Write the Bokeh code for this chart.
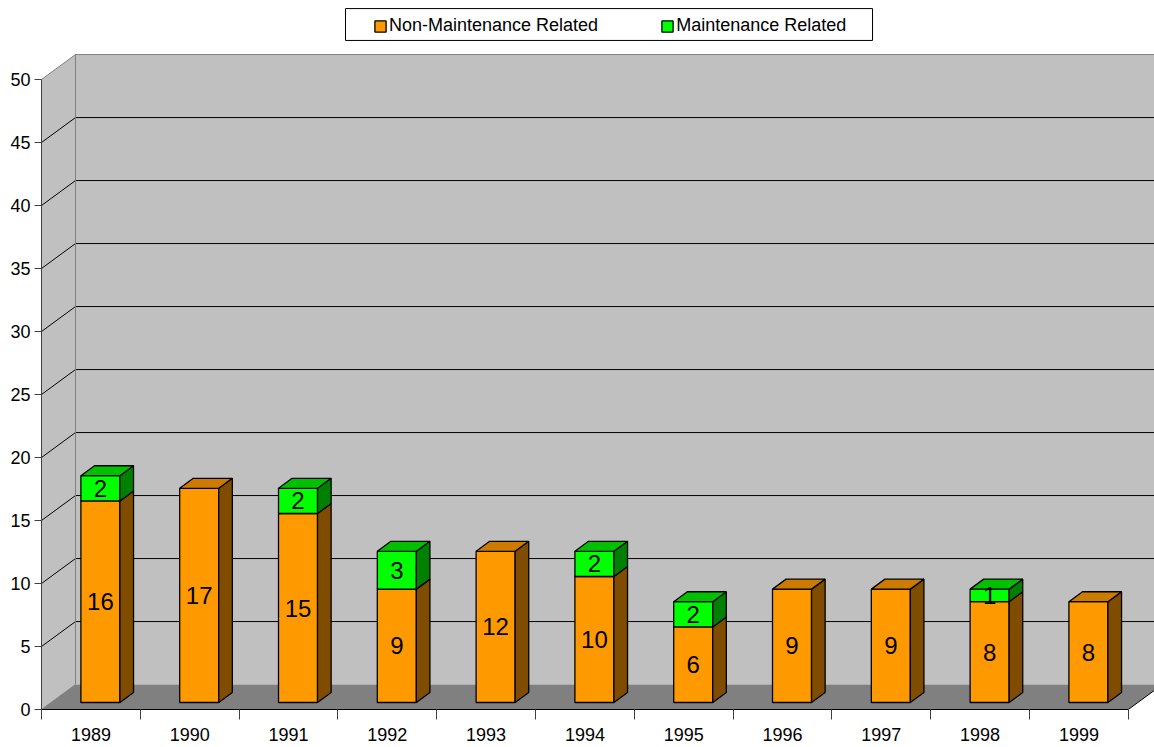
from bokeh.plotting import figure
from bokeh.models import Range1d, FixedTicker, ColumnDataSource, Legend, LegendItem, BoxAnnotation
from bokeh.core.properties import value
from bokeh.embed import file_html
from bokeh.resources import INLINE

# ---------------- data ----------------
years = ["1989", "1990", "1991", "1992", "1993", "1994", "1995", "1996", "1997", "1998", "1999"]
non_maint = [16, 17, 15, 9, 12, 10, 6, 9, 9, 8, 8]
maint = [2, 0, 2, 3, 0, 2, 2, 0, 0, 1, 0]
y_ticks = [0, 5, 10, 15, 20, 25, 30, 35, 40, 45, 50]
series_names = ["Non-Maintenance Related", "Maintenance Related"]

# ---------------- style ----------------
FONT = "Liberation Sans"
N = len(years)
YMAX = y_ticks[-1]
DX, DY = 0.344, 1.98      # depth of the 3-D box (category units, value units)
F1, F2 = 0.28, 0.68       # front / back depth of the bars
BW = 0.395                # bar width
ORANGE = ("#FF9900", "#7F4C00", "#CC7A00")   # front, side, top
GREEN = ("#00FF00", "#008000", "#00C000")
WALL, FLOOR = "#C0C0C0", "#808080"

p = figure(width=1154, height=747, output_backend="svg", toolbar_location=None,
           x_range=Range1d(0, 11.265), y_range=Range1d(0, 56.27),
           min_border_left=41, min_border_right=0, min_border_top=0, min_border_bottom=38)
p.outline_line_color = None
p.grid.visible = False
p.background_fill_color = "white"
p.border_fill_color = "white"

# walls and floor
p.patch([0, DX, DX, 0], [0, DY, YMAX + DY, YMAX], fill_color=WALL, line_color=None)
p.patch([DX, N + DX, N + DX, DX], [DY, DY, YMAX + DY, YMAX + DY], fill_color=WALL, line_color=None)
p.patch([0, N, N + DX, DX], [0, 0, DY, DY], fill_color=FLOOR, line_color=None)

# gridlines
gv = [v for v in y_ticks if 0 < v < YMAX]
p.segment(x0=[0] * len(gv), y0=gv, x1=[DX] * len(gv), y1=[v + DY for v in gv], line_color="black", line_width=1)
p.segment(x0=[DX] * len(gv), y0=[v + DY for v in gv], x1=[N + DX] * len(gv), y1=[v + DY for v in gv],
          line_color="black", line_width=1)
# wall edges
p.segment(x0=[0, DX, DX, 0], y0=[YMAX, YMAX + DY, DY, 0], x1=[DX, N + DX, DX, DX], y1=[YMAX + DY, YMAX + DY, YMAX + DY, DY],
          line_color="#808080", line_width=1)
p.segment(x0=[N], y0=[0], x1=[N + DX], y1=[DY], line_color="black", line_width=1)


def bar_faces(idx, bases, tops):
    left = [i + 0.5 - BW / 2 + F1 * DX for i in idx]
    right = [l + BW for l in left]
    ddx, ddy = (F2 - F1) * DX, (F2 - F1) * DY
    bot = [b + F1 * DY for b in bases]
    top = [t + F1 * DY for t in tops]
    front = ColumnDataSource(dict(left=left, right=right, bottom=bot, top=top))
    side = dict(xs=[[r, r + ddx, r + ddx, r] for r in right],
                ys=[[b, b + ddy, t + ddy, t] for b, t in zip(bot, top)])
    topf = dict(xs=[[l, r, r + ddx, l + ddx] for l, r in zip(left, right)],
                ys=[[t, t, t + ddy, t + ddy] for t in top])
    return front, side, topf


idx_all = list(range(N))
o_front, o_side, o_top = bar_faces(idx_all, [0] * N, non_maint)
g_idx = [i for i in idx_all if maint[i] > 0]
g_front, g_side, g_top = bar_faces(g_idx, [non_maint[i] for i in g_idx], [non_maint[i] + maint[i] for i in g_idx])

r_orange = p.quad(left="left", right="right", bottom="bottom", top="top", source=o_front,
                  fill_color=ORANGE[0], line_color="black", line_width=1.3)
p.patches(xs="xs", ys="ys", source=ColumnDataSource(o_side), fill_color=ORANGE[1], line_color="black", line_width=1.3)
o_top_idx = [k for k, i in enumerate(idx_all) if maint[i] == 0]
p.patches(xs=[o_top["xs"][k] for k in o_top_idx], ys=[o_top["ys"][k] for k in o_top_idx],
          fill_color=ORANGE[2], line_color="black", line_width=1.3)

r_green = p.quad(left="left", right="right", bottom="bottom", top="top", source=g_front,
                 fill_color=GREEN[0], line_color="black", line_width=1.3)
p.patches(xs="xs", ys="ys", source=ColumnDataSource(g_side), fill_color=GREEN[1], line_color="black", line_width=1.3)
p.patches(xs="xs", ys="ys", source=ColumnDataSource(g_top), fill_color=GREEN[2], line_color="black", line_width=1.3)

# value labels
lx = [i + 0.5 + F1 * DX for i in idx_all]
p.text(x=lx, y=[v / 2 + F1 * DY for v in non_maint], text=[str(v) for v in non_maint],
       text_align="center", text_baseline="middle", text_font=value(FONT), text_font_size="24px", text_color="black")
p.text(x=[lx[i] for i in g_idx], y=[non_maint[i] + maint[i] / 2 + F1 * DY for i in g_idx],
       text=[str(maint[i]) for i in g_idx],
       text_align="center", text_baseline="middle", text_font=value(FONT), text_font_size="24px", text_color="black")

# axes
xa = p.xaxis[0]
xa.ticker = FixedTicker(ticks=[i + 0.5 for i in idx_all], minor_ticks=list(range(N + 1)))
xa.major_label_overrides = {i + 0.5: years[i] for i in idx_all}
xa.bounds = (0, N)
xa.major_tick_line_color = None
xa.major_tick_out = 0
xa.major_tick_in = 0
xa.minor_tick_out = 10
xa.minor_tick_in = 0
xa.minor_tick_line_color = "#404040"
xa.axis_line_color = "black"
xa.major_label_standoff = 8
xa.major_label_text_font = FONT
xa.major_label_text_font_size = "18px"
xa.major_label_text_color = "black"

ya = p.yaxis[0]
ya.ticker = FixedTicker(ticks=y_ticks, minor_ticks=[])
ya.bounds = (0, YMAX)
ya.major_tick_out = 7
ya.major_tick_in = 0
ya.major_tick_line_color = "#404040"
ya.axis_line_color = "#404040"
ya.major_label_standoff = 4
ya.major_label_text_font = FONT
ya.major_label_text_font_size = "18px"
ya.major_label_text_color = "black"

# legend
box = BoxAnnotation(left=3.077, right=8.411, bottom=53.10, top=55.63,
                    fill_color="white", fill_alpha=1, line_color="black", line_width=1, line_alpha=1)
p.add_layout(box)
legend = Legend(items=[LegendItem(label=series_names[0], renderers=[r_orange]),
                       LegendItem(label=series_names[1], renderers=[r_green])],
                orientation="horizontal", location=(332, 673), padding=6, spacing=62,
                glyph_width=14, glyph_height=14, label_standoff=2, label_height=20,
                label_text_font=FONT, label_text_font_size="18px", label_text_color="black",
                border_line_color=None, background_fill_alpha=0)
p.add_layout(legend)

open("out.html", "w").write(file_html(p, INLINE))
